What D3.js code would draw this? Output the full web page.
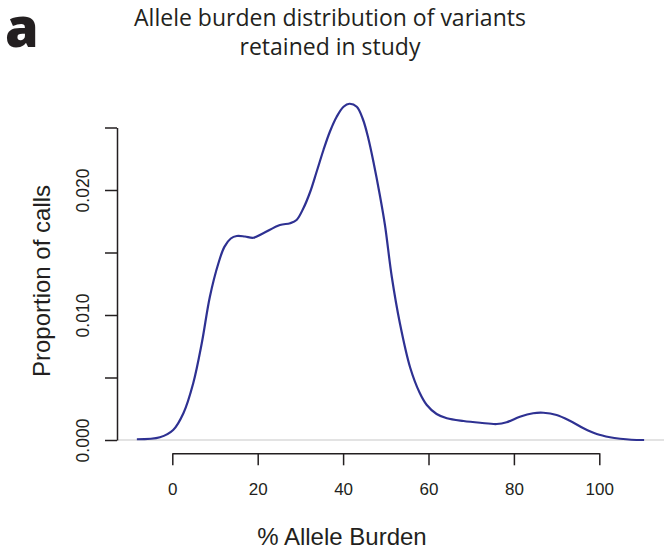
<!DOCTYPE html>
<html>
<head>
<meta charset="utf-8">
<script src="https://cdn.jsdelivr.net/npm/d3@7"></script>
<style>
  html, body { margin: 0; padding: 0; background: #fff; }
  svg { display: block; }
</style>
</head>
<body>
<svg id="chart" width="664" height="553"></svg>
<script>
// Kernel density estimate of allele burden (%), sampled along the curve
const burden = [-8.3, -2.9, 0.2, 2.6, 4.9, 6.9, 8.8, 10.8, 12.2, 13.7, 15.1, 17.0, 19.0, 21.3,
  25.2, 27.6, 29.1, 30.7, 32.3, 33.8, 35.4, 36.9, 38.5, 40.1, 41.5, 43.2, 44.7, 45.9,
  47.1, 48.6, 49.8, 51.4, 53.3, 55.7, 57.9, 59.6, 61.9, 64.3, 68.2, 72.1, 76.0, 78.3,
  81.4, 84.5, 86.9, 90.0, 93.1, 96.3, 99.4, 102.5, 104.9, 107.5, 110.5];
const density = [0.00006, 0.00022, 0.0008, 0.00214, 0.00454, 0.00774, 0.01146, 0.01414, 0.01545, 0.01612, 0.01632, 0.01628, 0.01618, 0.01654,
  0.0172, 0.01734, 0.0176, 0.01854, 0.01986, 0.02146, 0.0232, 0.02466, 0.02586, 0.02666, 0.0269, 0.02666, 0.0256, 0.02414,
  0.02226, 0.0196, 0.0172, 0.01306, 0.00934, 0.0058, 0.0038, 0.0028, 0.00208, 0.00174, 0.00152, 0.00138, 0.00128, 0.00142,
  0.00186, 0.00214, 0.00218, 0.0020, 0.00154, 0.00094, 0.00048, 0.00022, 0.0001, 0.00002, 0.0];

const xTicks = [0, 20, 40, 60, 80, 100];
const yTicks = [0, 0.005, 0.010, 0.015, 0.020, 0.025];
const yTickLabels = ["0.000", "", "0.010", "", "0.020", ""];

const titleLines = ["Allele burden distribution of variants", "retained in study"];
const panelLetter = "a";
const xTitle = "% Allele Burden";
const yTitle = "Proportion of calls";

const ink = "#231f20";
const svg = d3.select("#chart");

const x = d3.scaleLinear().domain([0, 100]).range([172.3, 599.3]);
const y = d3.scaleLinear().domain([0, 0.025]).range([440, 127.5]);

// zero reference line across the plotting region
svg.append("line")
  .attr("x1", 117).attr("x2", 664)
  .attr("y1", y(0)).attr("y2", y(0))
  .attr("stroke", "#dadada").attr("stroke-width", 1.5);

// density curve
const pts = burden.map((b, i) => [b, density[i]]);
const line = d3.line()
  .x(d => x(d[0]))
  .y(d => y(d[1]))
  .curve(d3.curveCatmullRom.alpha(0.5));
svg.append("path")
  .datum(pts)
  .attr("d", line)
  .attr("fill", "none")
  .attr("stroke", "#2e3192")
  .attr("stroke-width", 2.2)
  .attr("stroke-linejoin", "round");

// x axis
const gx = svg.append("g")
  .attr("transform", "translate(0,453.3)")
  .call(d3.axisBottom(x).tickValues(xTicks).tickSize(12).tickSizeOuter(0).tickPadding(18));
gx.select(".domain").attr("stroke", ink).attr("stroke-width", 1.5);
gx.selectAll(".tick line").attr("stroke", ink).attr("stroke-width", 1.5);
gx.selectAll(".tick text")
  .attr("fill", ink)
  .style("font-family", "'Liberation Sans', Arial, sans-serif")
  .style("font-size", "17px");

// y axis
const gy = svg.append("g")
  .attr("transform", "translate(117,0)")
  .call(d3.axisLeft(y).tickValues(yTicks).tickSize(12).tickSizeOuter(0)
    .tickFormat((d, i) => yTickLabels[i]));
gy.select(".domain").attr("stroke", ink).attr("stroke-width", 1.5);
gy.selectAll(".tick line").attr("stroke", ink).attr("stroke-width", 1.5);
gy.selectAll(".tick text")
  .attr("transform", "rotate(-90)")
  .attr("x", 0).attr("y", -28).attr("dy", 0)
  .attr("text-anchor", "middle")
  .attr("fill", ink)
  .style("font-family", "'Liberation Sans', Arial, sans-serif")
  .style("font-size", "17.5px");

// axis titles
svg.append("text")
  .attr("x", 342).attr("y", 545)
  .attr("text-anchor", "middle")
  .attr("fill", ink)
  .style("font-family", "'Liberation Sans', Arial, sans-serif")
  .style("font-size", "24px")
  .text(xTitle);

svg.append("text")
  .attr("transform", "translate(50,281) rotate(-90)")
  .attr("text-anchor", "middle")
  .attr("fill", ink)
  .style("font-family", "'Liberation Sans', Arial, sans-serif")
  .style("font-size", "24px")
  .text(yTitle);

// chart title
svg.append("g").selectAll("text")
  .data(titleLines)
  .join("text")
  .attr("x", 330)
  .attr("y", (d, i) => 25.5 + i * 29.5)
  .attr("text-anchor", "middle")
  .attr("fill", ink)
  .style("font-family", "'Open Sans', sans-serif")
  .style("font-size", "23px")
  .text(d => d);

// panel letter
svg.append("text")
  .attr("x", 5).attr("y", 47)
  .attr("fill", ink)
  .style("font-family", "'Open Sans', sans-serif")
  .style("font-weight", 800)
  .style("font-size", "54px")
  .text(panelLetter);
</script>
</body>
</html>
